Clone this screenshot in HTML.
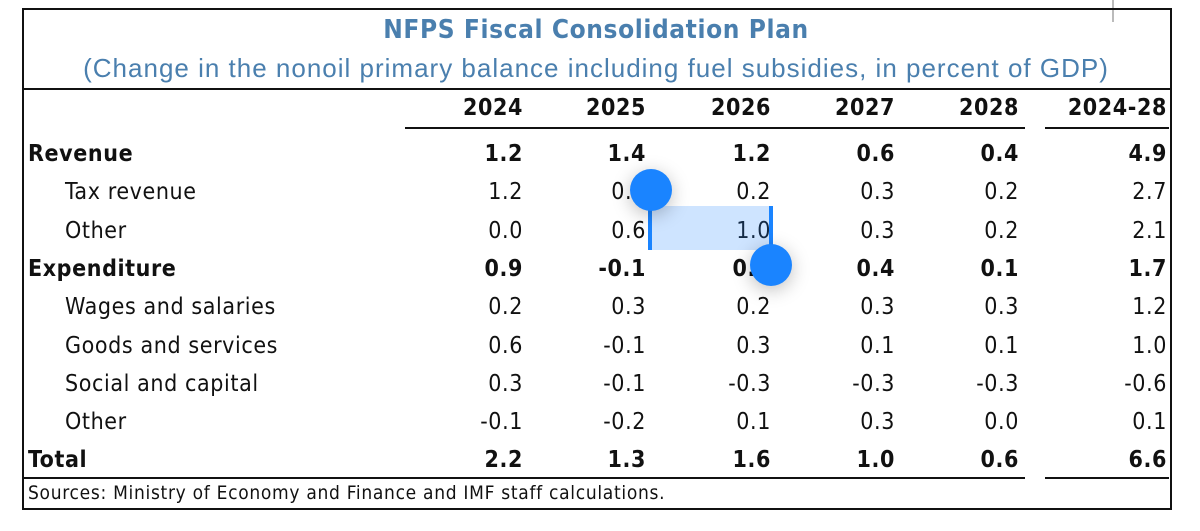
<!DOCTYPE html>
<html><head><meta charset="utf-8"><style>
body{margin:0;width:1200px;height:531px;background:#fff;overflow:hidden;font-family:"DejaVu Sans Condensed","Liberation Sans",sans-serif;position:relative}
.a{position:absolute}
.t{position:absolute;font-size:23px;letter-spacing:0.6px;color:#111;line-height:26px;white-space:nowrap}
.r{text-align:right}
.b{font-weight:bold}
</style></head><body>
<div class="a" style="left:1112px;top:0;width:2px;height:22px;background:#bbb"></div>
<div class="a" style="left:22px;top:8px;width:1146px;height:498px;border:2px solid #111"></div>
<div class="t b" style="left:0;width:1192px;top:15px;text-align:center;color:#4a7fae;font-size:26px;line-height:30px">NFPS Fiscal Consolidation Plan</div>
<div class="t" style="left:0;width:1192px;top:53px;text-align:center;color:#4a7fae;font-size:26px;line-height:30px;letter-spacing:1px;font-family:'Liberation Sans',sans-serif">(Change in the nonoil primary balance including fuel subsidies, in percent of GDP)</div>
<div class="a" style="left:22px;top:88px;width:1148px;height:2px;background:#111"></div>
<div class="a" style="left:405px;top:127px;width:620px;height:2px;background:#111"></div>
<div class="a" style="left:1045px;top:127px;width:124px;height:2px;background:#111"></div>
<div class="a" style="left:22px;top:477px;width:1003px;height:2px;background:#111"></div>
<div class="a" style="left:1045px;top:477px;width:124px;height:2px;background:#111"></div>
<div class="t" style="left:28px;top:482px;font-size:19px;letter-spacing:0.7px;line-height:22px">Sources: Ministry of Economy and Finance and IMF staff calculations.</div>
<div id="tbl"></div>
<div class="a" style="left:652px;top:206px;width:120px;height:44px;background:rgba(30,130,255,0.22)"></div>
<div class="a" style="left:648px;top:190px;width:4px;height:60px;background:#1a84ff"></div>
<div class="a" style="left:630px;top:169px;width:42px;height:42px;border-radius:50%;background:#1a84ff;box-shadow:0 4px 18px rgba(0,0,0,0.25)"></div>
<div class="a" style="left:769px;top:206px;width:4px;height:60px;background:#1a84ff"></div>
<div class="a" style="left:750px;top:244px;width:42px;height:42px;border-radius:50%;background:#1a84ff;box-shadow:0 4px 18px rgba(0,0,0,0.25)"></div>
<script>
const years=["2024","2025","2026","2027","2028","2024-28"];
const labels=["Revenue","Tax revenue","Other","Expenditure","Wages and salaries","Goods and services","Social and capital","Other","Total"];
const bold=[1,0,0,1,0,0,0,0,1];
const values=[
["1.2","1.4","1.2","0.6","0.4","4.9"],
["1.2","0.8","0.2","0.3","0.2","2.7"],
["0.0","0.6","1.0","0.3","0.2","2.1"],
["0.9","-0.1","0.4","0.4","0.1","1.7"],
["0.2","0.3","0.2","0.3","0.3","1.2"],
["0.6","-0.1","0.3","0.1","0.1","1.0"],
["0.3","-0.1","-0.3","-0.3","-0.3","-0.6"],
["-0.1","-0.2","0.1","0.3","0.0","0.1"],
["2.2","1.3","1.6","1.0","0.6","6.6"]];
const colR=[523,646,771,895,1019,1167];
const tbl=document.getElementById('tbl');
function cell(txt,x,y,right,b){const d=document.createElement('div');d.className='t'+(right?' r':'')+(b?' b':'');d.textContent=txt;
if(right){d.style.left=(x-120)+'px';d.style.width='120px';}else d.style.left=x+'px';d.style.top=y+'px';tbl.appendChild(d);return d;}
years.forEach((y,i)=>{const d=cell(y,colR[i],95,true,true);

});
labels.forEach((l,r)=>{const y=141+r*38.3;const ind=bold[r]?0:1;
const d=cell(l,ind?65:28,y,false,bold[r]);


values[r].forEach((v,c)=>{const e=cell(v,colR[c],y,true,bold[r]);

});});
</script>
</body></html>
